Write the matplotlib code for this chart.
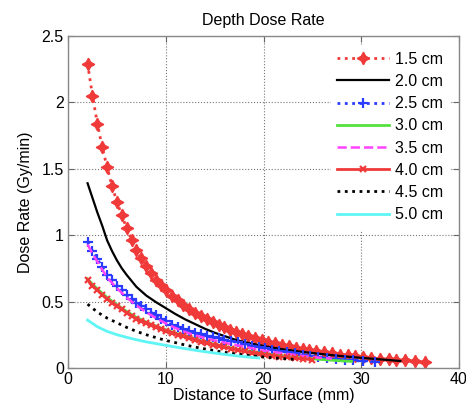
#!/usr/bin/env python3
"""
Depth dose rate vs distance to surface, one curve per source depth.
"""

import matplotlib
matplotlib.use('Agg')
import matplotlib.pyplot as plt
from matplotlib.ticker import FuncFormatter

# ============================================================================
# DATA
# ============================================================================

labels = ['1.5 cm', '2.0 cm', '2.5 cm', '3.0 cm', '3.5 cm', '4.0 cm', '4.5 cm', '5.0 cm']

x_15 = [2.0, 2.5, 3.0, 3.5, 4.0, 4.5, 5.0, 5.5, 6.0, 6.5, 7.0, 7.5, 8.0, 8.5, 9.0, 9.5,
        10.0, 10.6, 11.2, 11.8, 12.4, 13.0, 13.6, 14.2, 14.8, 15.4, 16.0, 16.6, 17.2,
        17.8, 18.4, 19.1, 19.8, 20.5, 21.2, 21.9, 22.6, 23.3, 24.0, 24.7, 25.4, 26.2,
        27.0, 27.8, 28.6, 29.4, 30.2, 31.0, 31.9, 32.8, 33.6, 34.5, 35.5, 36.5]
y_15 = [2.29, 2.05, 1.84, 1.66, 1.51, 1.37, 1.25, 1.15, 1.05, 0.965, 0.89, 0.825, 0.765,
        0.713, 0.665, 0.623, 0.585, 0.545, 0.508, 0.476, 0.445, 0.415, 0.391, 0.368,
        0.345, 0.325, 0.306, 0.289, 0.273, 0.257, 0.243, 0.227, 0.212, 0.198, 0.185,
        0.174, 0.163, 0.153, 0.143, 0.135, 0.126, 0.117, 0.109, 0.101, 0.094, 0.088,
        0.082, 0.076, 0.070, 0.065, 0.060, 0.056, 0.052, 0.048]

x_20 = [2.0, 2.5, 3.0, 3.5, 4.0, 4.5, 5.0, 5.5, 6.0, 7.0, 8.0, 9.0, 10.0, 11.0, 12.0, 13.0,
        14.0, 15.0, 16.0, 17.0, 18.0, 19.0, 20.0, 21.0, 22.0, 23.0, 24.0, 25.0, 26.0,
        27.0, 28.0, 29.0, 30.0, 31.0, 32.0, 33.0, 34.0]
y_20 = [1.39, 1.28, 1.17, 1.07, 0.96, 0.88, 0.81, 0.75, 0.70, 0.61, 0.545, 0.495, 0.45,
        0.405, 0.365, 0.33, 0.295, 0.265, 0.24, 0.215, 0.195, 0.18, 0.165, 0.152, 0.14,
        0.13, 0.12, 0.112, 0.104, 0.096, 0.089, 0.082, 0.076, 0.07, 0.064, 0.058, 0.052]

x_25 = [2.0, 2.5, 3.0, 3.5, 4.0, 4.5, 5.0, 5.5, 6.0, 6.5, 7.0, 7.5, 8.0, 8.5, 9.0, 9.5,
        10.0, 10.6, 11.2, 11.8, 12.4, 13.0, 13.6, 14.2, 14.8, 15.4, 16.0, 16.7, 17.4,
        18.1, 18.8, 19.5, 20.2, 20.9, 21.6, 22.4, 23.2, 24.0, 24.8, 25.6, 26.5, 27.4,
        28.3, 29.2, 30.2, 31.4]
y_25 = [0.95, 0.88, 0.82, 0.76, 0.70, 0.66, 0.62, 0.585, 0.55, 0.52, 0.49, 0.465, 0.44,
        0.417, 0.395, 0.372, 0.35, 0.326, 0.305, 0.29, 0.277, 0.265, 0.253, 0.242,
        0.231, 0.222, 0.212, 0.202, 0.192, 0.18, 0.168, 0.157, 0.147, 0.138, 0.13,
        0.12, 0.11, 0.10, 0.092, 0.084, 0.076, 0.069, 0.062, 0.056, 0.051, 0.046]

x_30 = [2.0, 2.5, 3.0, 3.5, 4.0, 5.0, 6.0, 7.0, 8.0, 9.0, 10.0, 11.0, 12.0, 13.0, 14.0,
        15.0, 16.0, 17.0, 18.0, 19.0, 20.0, 21.0, 22.0, 23.0, 24.0, 25.0, 26.0, 27.0,
        28.0, 29.0]
y_30 = [0.67, 0.63, 0.595, 0.562, 0.53, 0.475, 0.425, 0.38, 0.345, 0.315, 0.287, 0.262,
        0.24, 0.218, 0.197, 0.178, 0.161, 0.146, 0.132, 0.12, 0.108, 0.098, 0.09, 0.082,
        0.075, 0.069, 0.063, 0.058, 0.053, 0.049]

x_35 = [2.0, 2.5, 3.0, 3.5, 4.0, 5.0, 6.0, 7.0, 8.0, 9.0, 10.0, 11.0, 12.0, 13.0, 14.0,
        15.0, 16.0, 17.0, 18.0, 19.0, 20.0, 21.0, 22.0, 23.0, 24.0, 25.0, 26.0, 27.0]
y_35 = [0.93, 0.86, 0.80, 0.74, 0.68, 0.60, 0.53, 0.47, 0.42, 0.375, 0.335, 0.30, 0.27,
        0.245, 0.225, 0.207, 0.19, 0.175, 0.16, 0.145, 0.13, 0.12, 0.11, 0.10, 0.09,
        0.082, 0.075, 0.07]

x_40 = [2.0, 2.5, 3.0, 3.5, 4.0, 4.5, 5.0, 5.5, 6.0, 6.5, 7.0, 7.5, 8.0, 8.5, 9.0, 9.5,
        10.0, 10.6, 11.2, 11.8, 12.4, 13.0, 13.6, 14.2, 14.8, 15.4, 16.0, 16.7, 17.4,
        18.1, 18.8, 19.5, 20.2, 20.9, 21.6, 22.4, 23.2, 24.0, 25.0]
y_40 = [0.66, 0.62, 0.585, 0.552, 0.52, 0.492, 0.465, 0.44, 0.415, 0.392, 0.37, 0.352,
        0.335, 0.32, 0.305, 0.291, 0.278, 0.264, 0.25, 0.237, 0.223, 0.21, 0.198, 0.186,
        0.175, 0.165, 0.155, 0.145, 0.134, 0.124, 0.114, 0.106, 0.098, 0.091, 0.085,
        0.079, 0.073, 0.068, 0.062]

x_45 = [2.0, 3.0, 4.0, 5.0, 6.0, 7.0, 8.0, 9.0, 10.0, 11.0, 12.0, 13.0, 14.0, 15.0, 16.0,
        17.0, 18.0, 19.0, 20.0, 21.0, 22.0, 23.0, 23.5]
y_45 = [0.48, 0.42, 0.375, 0.34, 0.305, 0.275, 0.25, 0.228, 0.207, 0.19, 0.172, 0.157,
        0.143, 0.13, 0.118, 0.107, 0.098, 0.09, 0.082, 0.076, 0.07, 0.065, 0.062]

x_50 = [2.0, 3.0, 4.0, 5.0, 6.0, 7.0, 8.0, 9.0, 10.0, 11.0, 12.0, 13.0, 14.0, 15.0, 16.0,
        17.0, 18.0, 19.0, 19.5]
y_50 = [0.36, 0.31, 0.275, 0.25, 0.23, 0.212, 0.196, 0.183, 0.17, 0.157, 0.145, 0.133,
        0.122, 0.112, 0.102, 0.093, 0.085, 0.078, 0.075]

x_ticks = [0, 10, 20, 30, 40]
y_ticks = [0, 0.5, 1, 1.5, 2, 2.5]

# ============================================================================
# PLOT
# ============================================================================

plt.rcParams['font.family'] = ['Liberation Sans', 'DejaVu Sans']

fig = plt.figure(figsize=(4.66, 4.12), dpi=100)
ax = fig.add_axes([0.146, 0.107, 0.839, 0.806])

RED = '#f03a3a'
ax.plot(x_15, y_15, linestyle=':', color=RED, lw=2, marker=(4, 1, 0), ms=9,
        mec=RED, mfc=RED, label=labels[0])
ax.plot(x_20, y_20, '-', color='black', lw=1.6, label=labels[1])
ax.plot(x_25, y_25, linestyle=':', color='#2a3cff', lw=2, marker='+', ms=7, mew=1.6,
        label=labels[2])
ax.plot(x_30, y_30, '-', color='#55e040', lw=2, label=labels[3])
ax.plot(x_35, y_35, '--', color='#ff44ff', lw=1.8, label=labels[4])
ax.plot(x_40, y_40, '-', color=RED, lw=2, marker='x', ms=4.5, mew=1.6, label=labels[5])
ax.plot(x_45, y_45, ':', color='black', lw=2, label=labels[6])
ax.plot(x_50, y_50, '-', color='#5ff5f5', lw=2, label=labels[7])

ax.set_xlim(0, 40)
ax.set_ylim(0, 2.5)
ax.set_xticks(x_ticks)
ax.set_yticks(y_ticks)
ax.yaxis.set_major_formatter(FuncFormatter(lambda v, _: f'{v:g}'))
ax.tick_params(direction='in', top=True, right=True, labelsize=11.5, length=4,
               color='#666666', pad=3)
for s in ax.spines.values():
    s.set_color('#888888')
    s.set_linewidth(1.0)

ax.grid(True, linestyle=':', color='#777777', lw=0.8)
ax.set_axisbelow(True)

ax.set_title('Depth Dose Rate', fontsize=11.5, pad=8)
ax.set_xlabel('Distance to Surface (mm)', fontsize=11.5, labelpad=1)
ax.set_ylabel('Dose Rate (Gy/min)', fontsize=11.5, labelpad=6)

leg = ax.legend(loc='upper right', fontsize=11.5, numpoints=1, handlelength=3.2,
                labelspacing=0.45, handletextpad=0.4, borderaxespad=0.6,
                fancybox=False, framealpha=1.0)
leg.get_frame().set_edgecolor('white')

fig.savefig('out.png', dpi=100)
